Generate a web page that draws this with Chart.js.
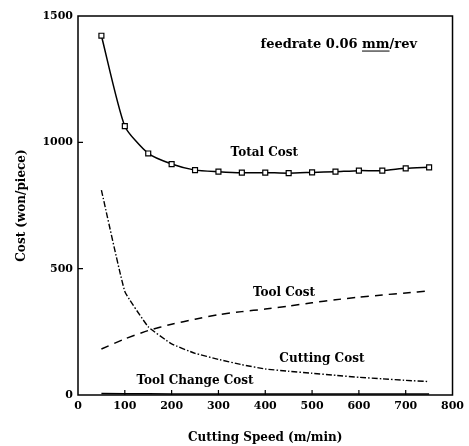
<!DOCTYPE html>
<html>
<head>
<meta charset="utf-8">
<script src="https://cdn.jsdelivr.net/npm/chart.js@4.4.1/dist/chart.umd.min.js"></script>
<style>
  body { margin: 0; background: #fff; }
  #wrap { width: 469px; height: 446px; }
</style>
</head>
<body>
<div id="wrap"><canvas id="costChart" width="469" height="446"></canvas></div>
<script>
// cutting speed (m/min)
const speeds = [50, 100, 150, 200, 250, 300, 350, 400, 450, 500, 550, 600, 650, 700, 750];
// cost (won/piece)
const totalCost = [1422, 1064, 956, 914, 890, 884, 880, 880, 878, 881, 884, 888, 888, 897, 901];
const toolCost = [182, 222, 255, 280, 300, 318, 330, 340, 352, 365, 377, 387, 396, 404, 412];
const cuttingCost = [811, 410, 270, 202, 165, 141, 120, 103, 94, 86, 78, 70, 64, 58, 53];
const toolChangeCost = [6, 5, 5, 4, 4, 4, 4, 4, 4, 4, 4, 4, 4, 4, 4];

const speedTicks = [100, 200, 300, 400, 500, 600, 700];
const costTicks = [500, 1000];

const notes = [
    { text: 'Total Cost', x: 398, y: 958 },
    { text: 'Tool Cost', x: 440, y: 404 },
    { text: 'Cutting Cost', x: 521, y: 142 },
    { text: 'Tool Change Cost', x: 250, y: 55 }
];

const FONT = '"DejaVu Serif", "Liberation Serif", serif';

const pts = arr => arr.map((v, i) => ({ x: speeds[i], y: v }));

const decor = {
    id: 'decor',
    afterDatasetsDraw(chart) {
        const { ctx, chartArea: a, scales: { x, y } } = chart;
        ctx.save();
        ctx.strokeStyle = '#000';
        ctx.lineWidth = 1.5;
        ctx.strokeRect(a.left, a.top, a.right - a.left, a.bottom - a.top);

        // ticks point into the plot
        ctx.lineWidth = 1.2;
        ctx.beginPath();
        speedTicks.forEach(v => {
            const px = x.getPixelForValue(v);
            ctx.moveTo(px, a.bottom);
            ctx.lineTo(px, a.bottom - 5);
        });
        costTicks.forEach(v => {
            const py = y.getPixelForValue(v);
            ctx.moveTo(a.left, py);
            ctx.lineTo(a.left + 5, py);
        });
        ctx.stroke();

        // curve labels
        ctx.fillStyle = '#000';
        ctx.font = 'bold 12px ' + FONT;
        ctx.textAlign = 'center';
        ctx.textBaseline = 'middle';
        notes.forEach(n => ctx.fillText(n.text, x.getPixelForValue(n.x), y.getPixelForValue(n.y)));

        // feedrate note with underlined unit
        const pre = 'feedrate 0.06 ';
        const unit = 'mm';
        const post = '/rev';
        ctx.font = 'bold 13px ' + FONT;
        ctx.textAlign = 'left';
        const w = ctx.measureText(pre + unit + post).width;
        const cx = x.getPixelForValue(557), cy = y.getPixelForValue(1385);
        const left = cx - w / 2;
        ctx.fillText(pre + unit + post, left, cy);
        const u0 = left + ctx.measureText(pre).width;
        const u1 = u0 + ctx.measureText(unit).width;
        ctx.lineWidth = 1;
        ctx.beginPath();
        ctx.moveTo(u0, cy + 6);
        ctx.lineTo(u1, cy + 6);
        ctx.stroke();
        ctx.restore();
    }
};

new Chart(document.getElementById('costChart'), {
    type: 'line',
    data: {
        datasets: [
            {
                label: 'Total Cost',
                data: pts(totalCost),
                borderColor: '#000',
                borderWidth: 1.5,
                tension: 0.2,
                pointStyle: 'rect',
                pointRadius: 3.5,
                pointBackgroundColor: '#fff',
                pointBorderColor: '#000',
                pointBorderWidth: 1.2
            },
            {
                label: 'Tool Cost',
                data: pts(toolCost),
                borderColor: '#000',
                borderWidth: 1.5,
                borderDash: [8, 6],
                tension: 0.2,
                pointRadius: 0
            },
            {
                label: 'Cutting Cost',
                data: pts(cuttingCost),
                borderColor: '#000',
                borderWidth: 1.4,
                borderDash: [6, 2, 1.5, 2],
                tension: 0.1,
                pointRadius: 0
            },
            {
                label: 'Tool Change Cost',
                data: pts(toolChangeCost),
                borderColor: '#000',
                borderWidth: 1.5,
                pointRadius: 0
            }
        ]
    },
    options: {
        responsive: false,
        animation: false,
        events: [],
        layout: { padding: { top: 16, right: 14, left: 0, bottom: 0 } },
        plugins: { legend: { display: false }, tooltip: { enabled: false } },
        scales: {
            x: {
                type: 'linear',
                min: 0,
                max: 800,
                grid: { display: false, drawTicks: false },
                border: { display: false },
                ticks: {
                    stepSize: 100,
                    padding: 5,
                    color: '#000',
                    maxRotation: 0,
                    callback: v => String(v),
                    font: { family: FONT, size: 11, weight: 'bold' }
                },
                title: {
                    display: true,
                    text: 'Cutting Speed (m/min)',
                    color: '#000',
                    padding: { top: 1, bottom: 1 },
                    font: { family: FONT, size: 12, weight: 'bold' }
                },
                afterFit(scale) { scale.height = 51; }
            },
            y: {
                min: 0,
                max: 1500,
                grid: { display: false, drawTicks: false },
                border: { display: false },
                ticks: {
                    stepSize: 500,
                    padding: 5,
                    color: '#000',
                    callback: v => String(v),
                    font: { family: FONT, size: 11, weight: 'bold' }
                },
                title: {
                    display: true,
                    text: 'Cost (won/piece)',
                    color: '#000',
                    padding: { top: 15, bottom: 0 },
                    font: { family: FONT, size: 12, weight: 'bold' }
                },
                afterFit(scale) { scale.width = 78; }
            }
        }
    },
    plugins: [decor]
});
</script>
</body>
</html>
